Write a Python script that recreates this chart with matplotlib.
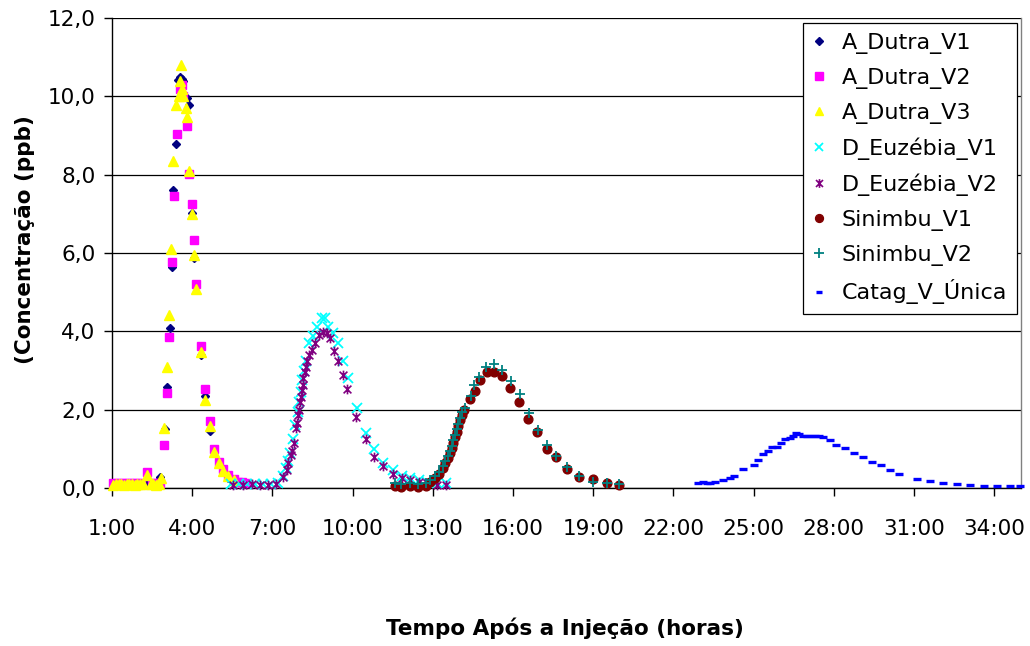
import matplotlib
matplotlib.use("Agg")
import matplotlib.pyplot as plt
from matplotlib.path import Path

# ---------------- data (hours, ppb) ----------------
dutra_v1_t = [1.05, 1.2, 1.35, 1.5, 1.65, 1.8, 1.95, 2.1, 2.25, 2.4, 2.55, 2.7, 2.80,
              2.98, 3.07, 3.16, 3.23, 3.29, 3.39, 3.48, 3.55, 3.61, 3.67, 3.79, 3.88,
              3.98, 4.07, 4.14, 4.32, 4.48, 4.67, 4.82, 4.99, 5.16, 5.35]
dutra_v1_c = [0.10, 0.11, 0.10, 0.12, 0.10, 0.11, 0.10, 0.12, 0.13, 0.12, 0.10, 0.15, 0.29,
              1.50, 2.59, 4.08, 5.63, 7.60, 8.79, 10.42, 10.50, 10.45, 10.38, 9.95, 9.79,
              7.02, 5.87, 5.15, 3.40, 2.35, 1.46, 0.95, 0.62, 0.40, 0.25]

dutra_v2_t = [1.05, 1.2, 1.35, 1.5, 1.65, 1.8, 1.95, 2.1, 2.32, 2.5, 2.65, 2.8,
              2.96, 3.07, 3.14, 3.23, 3.32, 3.42, 3.54, 3.62, 3.67, 3.79, 3.89, 3.98,
              4.07, 4.14, 4.32, 4.48, 4.67, 4.82, 4.99, 5.16, 5.35, 5.55, 5.70, 5.85, 6.00]
dutra_v2_c = [0.13, 0.14, 0.12, 0.13, 0.12, 0.14, 0.12, 0.13, 0.42, 0.13, 0.12, 0.14,
              1.11, 2.43, 3.86, 5.76, 7.46, 9.04, 10.20, 10.30, 10.00, 9.25, 8.02, 7.25,
              6.34, 5.20, 3.63, 2.52, 1.71, 0.99, 0.67, 0.48, 0.33, 0.22, 0.16, 0.15, 0.13]

dutra_v3_t = [1.05, 1.15, 1.25, 1.35, 1.45, 1.55, 1.65, 1.75, 1.85, 1.95, 2.05, 2.15,
              2.32, 2.45, 2.55, 2.65, 2.75, 2.82,
              2.96, 3.07, 3.14, 3.21, 3.29, 3.39, 3.50, 3.55, 3.58, 3.62, 3.67, 3.76,
              3.79, 3.89, 3.98, 4.07, 4.14, 4.32, 4.48, 4.67, 4.82, 4.99, 5.16, 5.35, 5.55]
dutra_v3_c = [0.08, 0.10, 0.09, 0.10, 0.08, 0.11, 0.09, 0.10, 0.08, 0.10, 0.09, 0.10,
              0.33, 0.09, 0.10, 0.08, 0.10, 0.25,
              1.54, 3.10, 4.42, 6.10, 8.34, 9.79, 10.00, 10.40, 10.81, 10.20, 10.00, 9.70,
              9.47, 8.10, 6.99, 5.95, 5.07, 3.48, 2.25, 1.58, 0.93, 0.63, 0.43, 0.30, 0.20]

euz_v1_t = [5.45, 5.75, 6.05, 6.35, 6.65, 6.95, 7.20, 7.38, 7.50, 7.58, 7.66, 7.78,
            7.85, 7.94, 8.00, 8.06, 8.12, 8.18, 8.25, 8.38, 8.53, 8.66, 8.84, 8.97,
            9.09, 9.25, 9.47, 9.65, 9.84, 10.15, 10.49, 10.81, 11.15, 11.50, 11.84,
            12.15, 12.50, 12.80, 13.15, 13.48]
euz_v1_c = [0.10, 0.09, 0.10, 0.09, 0.10, 0.09, 0.12, 0.30, 0.50, 0.70, 0.90, 1.25,
            1.60, 1.95, 2.20, 2.45, 2.75, 3.00, 3.25, 3.70, 3.87, 4.12, 4.33, 4.33,
            4.12, 3.95, 3.70, 3.23, 2.80, 2.04, 1.41, 0.99, 0.63, 0.45, 0.30,
            0.25, 0.20, 0.15, 0.12, 0.12]

euz_v2_t = [5.53, 5.90, 6.22, 6.53, 6.84, 7.15, 7.41, 7.54, 7.60, 7.69, 7.73, 7.81,
            7.88, 7.92, 7.97, 8.00, 8.03, 8.07, 8.10, 8.13, 8.16, 8.22, 8.26, 8.31,
            8.38, 8.47, 8.59, 8.76, 8.91, 9.03, 9.16, 9.32, 9.47, 9.65, 9.78, 10.13,
            10.49, 10.81, 11.15, 11.50, 11.84, 12.15, 12.50, 12.80, 13.15, 13.48]
euz_v2_c = [0.08, 0.08, 0.09, 0.08, 0.08, 0.09, 0.29, 0.46, 0.63, 0.84, 0.95, 1.14,
            1.52, 1.65, 1.87, 1.99, 2.20, 2.33, 2.50, 2.63, 2.80, 2.97, 3.10, 3.23,
            3.40, 3.53, 3.71, 3.91, 3.99, 3.95, 3.82, 3.51, 3.23, 2.89, 2.52, 1.81,
            1.24, 0.79, 0.55, 0.36, 0.25, 0.20, 0.15, 0.12, 0.08, 0.08]

sin_v1_t = [11.57, 11.82, 12.13, 12.44, 12.75, 12.90, 13.08, 13.24, 13.37, 13.45,
            13.55, 13.65, 13.71, 13.77, 13.83, 13.89, 13.95, 14.02, 14.08, 14.17,
            14.39, 14.58, 14.77, 15.02, 15.27, 15.58, 15.89, 16.24, 16.57, 16.91,
            17.26, 17.60, 18.01, 18.48, 19.00, 19.50, 19.98]
sin_v1_c = [0.04, 0.03, 0.04, 0.03, 0.05, 0.16, 0.25, 0.37, 0.50, 0.63,
            0.76, 0.89, 1.01, 1.16, 1.30, 1.44, 1.58, 1.74, 1.87, 1.99,
            2.27, 2.48, 2.76, 2.95, 2.96, 2.85, 2.55, 2.19, 1.76, 1.44,
            0.99, 0.78, 0.48, 0.27, 0.22, 0.14, 0.07]

sin_v2_t = [11.57, 11.82, 12.13, 12.44, 12.75, 12.90, 13.08, 13.24, 13.37, 13.45,
            13.55, 13.65, 13.71, 13.77, 13.83, 13.89, 13.95, 14.02, 14.08, 14.19,
            14.41, 14.55, 14.74, 14.99, 15.27, 15.58, 15.92, 16.27, 16.60, 16.93,
            17.26, 17.60, 18.01, 18.48, 19.00, 19.50, 19.98]
sin_v2_c = [0.12, 0.11, 0.12, 0.11, 0.13, 0.20, 0.30, 0.42, 0.55, 0.68,
            0.82, 0.95, 1.08, 1.22, 1.36, 1.50, 1.64, 1.80, 1.93, 2.04,
            2.35, 2.62, 2.84, 3.08, 3.17, 3.01, 2.72, 2.39, 1.91, 1.48,
            1.10, 0.82, 0.54, 0.31, 0.16, 0.12, 0.10]

catag_t = [22.93, 23.12, 23.25, 23.37, 23.56, 23.85, 24.12, 24.27, 24.60, 25.02,
           25.18, 25.34, 25.52, 25.68, 25.87, 26.02, 26.18, 26.36, 26.49, 26.59,
           26.71, 26.84, 26.99, 27.14, 27.30, 27.46, 27.61, 27.84, 28.09, 28.42,
           28.76, 29.08, 29.44, 29.77, 30.11, 30.44, 31.10, 31.60, 32.10, 32.60,
           33.10, 33.60, 34.10, 34.60, 34.98]
catag_c = [0.12, 0.16, 0.12, 0.12, 0.16, 0.20, 0.25, 0.31, 0.48, 0.59,
           0.71, 0.86, 0.95, 1.04, 1.04, 1.16, 1.25, 1.27, 1.33, 1.40,
           1.37, 1.34, 1.34, 1.34, 1.34, 1.34, 1.29, 1.22, 1.11, 1.01,
           0.90, 0.78, 0.67, 0.58, 0.46, 0.36, 0.22, 0.17, 0.13, 0.09,
           0.07, 0.06, 0.05, 0.04, 0.05]

series_names = ["A_Dutra_V1", "A_Dutra_V2", "A_Dutra_V3", "D_Euzébia_V1",
                "D_Euzébia_V2", "Sinimbu_V1", "Sinimbu_V2", "Catag_V_Única"]
x_ticks = [1, 4, 7, 10, 13, 16, 19, 22, 25, 28, 31, 34]
x_tick_labels = [f"{h}:00" for h in x_ticks]
y_ticks = [0, 2, 4, 6, 8, 10, 12]
y_tick_labels = ["0,0", "2,0", "4,0", "6,0", "8,0", "10,0", "12,0"]

# ---------------- figure ----------------
plt.rcParams['font.family'] = ['DejaVu Sans']
W, H = 1030, 646
fig = plt.figure(figsize=(W / 100, H / 100), dpi=100)
ax = fig.add_axes([112 / W, 1 - 488 / H, (1021 - 112) / W, (488 - 18) / H])

asterisk = Path([(-1, -1), (1, 1), (-1, 1), (1, -1), (0, -1.25), (0, 1.25)],
                [Path.MOVETO, Path.LINETO, Path.MOVETO, Path.LINETO, Path.MOVETO, Path.LINETO])

styles = [
    dict(marker='D', ms=4.4, color='#000080', mec='#000080'),
    dict(marker='s', ms=5.8, color='#FF00FF', mec='#FF00FF'),
    dict(marker='^', ms=7.0, color='#FFFF00', mec='#FFFF00'),
    dict(marker='x', ms=6.5, color='#00FFFF', mew=1.3),
    dict(marker=asterisk, ms=7.0, color='#800080', mew=1.2, mfc='none'),
    dict(marker='o', ms=6.3, color='#800000', mec='#800000'),
    dict(marker='+', ms=7.5, color='#008080', mew=1.3),
    dict(marker='_', ms=5.5, color='#0000FF', mew=2.4),
]
data = [(dutra_v1_t, dutra_v1_c), (dutra_v2_t, dutra_v2_c), (dutra_v3_t, dutra_v3_c),
        (euz_v1_t, euz_v1_c), (euz_v2_t, euz_v2_c), (sin_v1_t, sin_v1_c),
        (sin_v2_t, sin_v2_c), (catag_t, catag_c)]

for i, ((t, c), st, name) in enumerate(zip(data, styles, series_names)):
    ax.plot(t, c, linestyle='none', label=name, clip_on=False, zorder=3 + i, **st)

ax.set_xlim(1, 35)
ax.set_ylim(0, 12)
ax.set_xticks(x_ticks)
ax.set_xticklabels(x_tick_labels)
ax.set_yticks(y_ticks)
ax.set_yticklabels(y_tick_labels)
ax.tick_params(axis='x', direction='out', length=6, width=1, pad=16, labelsize=15.5)
ax.tick_params(axis='y', direction='out', length=6, width=1, pad=6, labelsize=15.5)
ax.grid(axis='y', color='#000000', linewidth=0.9, zorder=1)
ax.set_axisbelow(True)
for s in ['left', 'bottom']:
    ax.spines[s].set_color('black')
    ax.spines[s].set_linewidth(1.0)
ax.spines['top'].set_visible(False)
ax.spines['right'].set_color('#808080')
ax.spines['right'].set_linewidth(1.0)

fig.text(565 / W, 1 - 628 / H, "Tempo Após a Injeção (horas)", ha='center', va='center',
         fontsize=15.5, fontweight='bold')
fig.text(25 / W, 1 - 240 / H, "(Concentração (ppb)", ha='center', va='center',
         rotation=90, fontsize=15.5, fontweight='bold')

leg = ax.legend(loc='upper right', bbox_to_anchor=((1017 - 112) / 909, (488 - 23) / 470),
                borderaxespad=0, fontsize=16, numpoints=1, markerscale=0.9,
                handlelength=0.55, handletextpad=0.75, labelspacing=0.62,
                borderpad=0.45, fancybox=False, framealpha=1, edgecolor='black')
leg.get_frame().set_linewidth(0.9)
leg.set_zorder(20)

fig.savefig("out.png", dpi=100)
